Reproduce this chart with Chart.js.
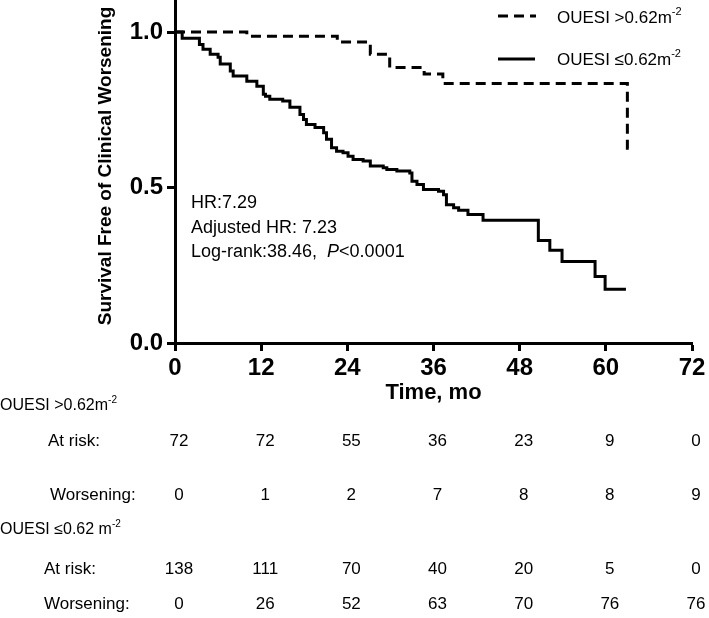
<!DOCTYPE html>
<html>
<head>
<meta charset="utf-8">
<script src="https://cdn.jsdelivr.net/npm/chart.js@4.4.1/dist/chart.umd.min.js"></script>
<style>
  html, body { margin: 0; padding: 0; background: #fff; }
  #wrap { width: 709px; height: 618px; }
</style>
</head>
<body>
<div id="wrap"><canvas id="kmChart"></canvas></div>
<script>
const xTicks = [0, 12, 24, 36, 48, 60, 72];
const yTicks = [0, 0.5, 1.0];

// OUESI > 0.62 (dashed)
const highTimes = [0, 10.0, 22.6, 27.2, 29.9, 34.7, 37.3, 63.0, 63.8];
const highSurv = [1.0, 0.987, 0.968, 0.929, 0.886, 0.865, 0.835, 0.626, 0.626];

// OUESI <= 0.62 (solid)
const lowTimes = [0, 1.0, 3.4, 3.9, 4.9, 6.0, 6.3, 7.7, 8.1, 10.0, 11.4, 12.3, 12.6, 13.2, 15.0, 16.0,
  17.4, 17.9, 18.3, 19.5, 20.7, 21.1, 21.8, 22.5, 23.4, 24.1, 24.8, 26.2, 27.2, 29.0, 29.5, 30.9,
  32.7, 33.0, 33.7, 34.6, 36.7, 37.4, 37.8, 38.8, 39.5, 40.8, 42.9, 50.6, 52.2, 53.9, 58.5, 59.9, 62.8];
const lowSurv = [1.0, 0.980, 0.960, 0.945, 0.929, 0.919, 0.897, 0.875, 0.859, 0.842, 0.826, 0.800, 0.794, 0.784, 0.778, 0.758,
  0.735, 0.719, 0.703, 0.693, 0.676, 0.655, 0.628, 0.617, 0.612, 0.601, 0.590, 0.585, 0.569, 0.564, 0.558, 0.553,
  0.547, 0.520, 0.510, 0.494, 0.488, 0.477, 0.445, 0.435, 0.427, 0.413, 0.395, 0.330, 0.298, 0.262, 0.214, 0.173, 0.173];

const highAtRisk = [72, 72, 55, 36, 23, 9, 0];
const highWorsening = [0, 1, 2, 7, 8, 8, 9];
const lowAtRisk = [138, 111, 70, 40, 20, 5, 0];
const lowWorsening = [0, 26, 52, 63, 70, 76, 76];

const FONT = '"Liberation Sans", Arial, sans-serif';

const toPoints = (times, surv) => times.map((t, i) => ({ x: t, y: surv[i] }));

const drawSup = (ctx, base, sup, x, y, size) => {
  ctx.font = `${size}px ${FONT}`;
  ctx.fillText(base, x, y);
  const w = ctx.measureText(base).width;
  ctx.font = `${Math.round(size * 0.65)}px ${FONT}`;
  ctx.fillText(sup, x + w, y - size * 0.38);
};

const extrasPlugin = {
  id: "kmExtras",
  afterDraw(chart) {
    const ctx = chart.ctx;
    const xs = chart.scales.x;
    ctx.save();
    ctx.fillStyle = "#000";
    ctx.strokeStyle = "#000";
    ctx.textBaseline = "middle";

    // y title
    ctx.save();
    ctx.translate(106, 166);
    ctx.rotate(-Math.PI / 2);
    ctx.textAlign = "center";
    ctx.font = `bold 19px ${FONT}`;
    ctx.fillText("Survival Free of Clinical Worsening", 0, 0);
    ctx.restore();

    // x title
    ctx.textAlign = "center";
    ctx.font = `bold 22px ${FONT}`;
    ctx.fillText("Time, mo", xs.getPixelForValue(36), 393);

    // legend
    ctx.lineWidth = 3;
    ctx.setLineDash([10, 6]);
    ctx.beginPath();
    ctx.moveTo(498, 16);
    ctx.lineTo(536, 16);
    ctx.stroke();
    ctx.setLineDash([]);
    ctx.beginPath();
    ctx.moveTo(498, 59);
    ctx.lineTo(535, 59);
    ctx.stroke();
    ctx.textAlign = "left";
    drawSup(ctx, "OUESI >0.62m", "-2", 557, 18, 17);
    drawSup(ctx, "OUESI \u22640.62m", "-2", 557, 60, 17);

    // annotation
    ctx.font = `18px ${FONT}`;
    ctx.fillText("HR:7.29", 191, 203);
    ctx.fillText("Adjusted HR: 7.23", 191, 228);
    const lr = "Log-rank:38.46,  ";
    ctx.fillText(lr, 191, 252);
    let px = 191 + ctx.measureText(lr).width;
    ctx.font = `italic 18px ${FONT}`;
    ctx.fillText("P", px, 252);
    px += ctx.measureText("P").width;
    ctx.font = `18px ${FONT}`;
    ctx.fillText("<0.0001", px, 252);

    // number-at-risk table
    ctx.textAlign = "left";
    drawSup(ctx, "OUESI >0.62m", "-2", 0, 406, 16);
    drawSup(ctx, "OUESI \u22640.62 m", "-2", 0, 530, 16);
    ctx.font = `17px ${FONT}`;
    ctx.fillText("At risk:", 48, 441);
    ctx.fillText("Worsening:", 50, 495);
    ctx.fillText("At risk:", 44, 569);
    ctx.fillText("Worsening:", 44, 604);
    ctx.textAlign = "center";
    const rows = [
      [highAtRisk, 441],
      [highWorsening, 495],
      [lowAtRisk, 569],
      [lowWorsening, 604],
    ];
    rows.forEach(([vals, y]) => {
      vals.forEach((v, i) => {
        ctx.fillText(String(v), xs.getPixelForValue(xTicks[i]) + 4, y);
      });
    });
    ctx.restore();
  },
};

new Chart(document.getElementById("kmChart"), {
  type: "line",
  data: {
    datasets: [
      {
        label: "OUESI >0.62",
        data: toPoints(highTimes, highSurv),
        borderColor: "#000",
        borderWidth: 3,
        borderDash: [10, 6],
        stepped: true,
        pointRadius: 0,
        fill: false,
      },
      {
        label: "OUESI <=0.62",
        data: toPoints(lowTimes, lowSurv),
        borderColor: "#000",
        borderWidth: 3,
        stepped: true,
        pointRadius: 0,
        fill: false,
      },
    ],
  },
  options: {
    responsive: true,
    maintainAspectRatio: false,
    animation: false,
    layout: { padding: { top: 1, right: 17, left: 0, bottom: 0 } },
    plugins: {
      legend: { display: false },
      tooltip: { enabled: false },
    },
    scales: {
      x: {
        type: "linear",
        min: 0,
        max: 72,
        afterFit(scale) {
          scale.height = 275;
          scale.paddingLeft = 0;
          scale.paddingRight = 0;
        },
        afterBuildTicks(scale) {
          scale.ticks = xTicks.map((v) => ({ value: v }));
        },
        ticks: {
          color: "#000",
          font: { family: FONT, size: 24, weight: "bold" },
          padding: 3,
          maxRotation: 0,
        },
        grid: { drawOnChartArea: false, drawTicks: true, tickLength: 8, tickWidth: 3, tickColor: "#000" },
        border: { display: true, width: 3, color: "#000" },
      },
      y: {
        min: 0,
        max: 1.1,
        afterFit(scale) {
          scale.width = 175;
          scale.paddingTop = 0;
          scale.paddingBottom = 0;
        },
        afterBuildTicks(scale) {
          scale.ticks = yTicks.map((v) => ({ value: v }));
        },
        ticks: {
          color: "#000",
          font: { family: FONT, size: 24, weight: "bold" },
          padding: 4,
          callback(value) {
            return Number(value).toFixed(1);
          },
        },
        grid: { drawOnChartArea: false, drawTicks: true, tickLength: 8, tickWidth: 3, tickColor: "#000" },
        border: { display: true, width: 3, color: "#000" },
      },
    },
  },
  plugins: [extrasPlugin],
});
</script>
</body>
</html>
